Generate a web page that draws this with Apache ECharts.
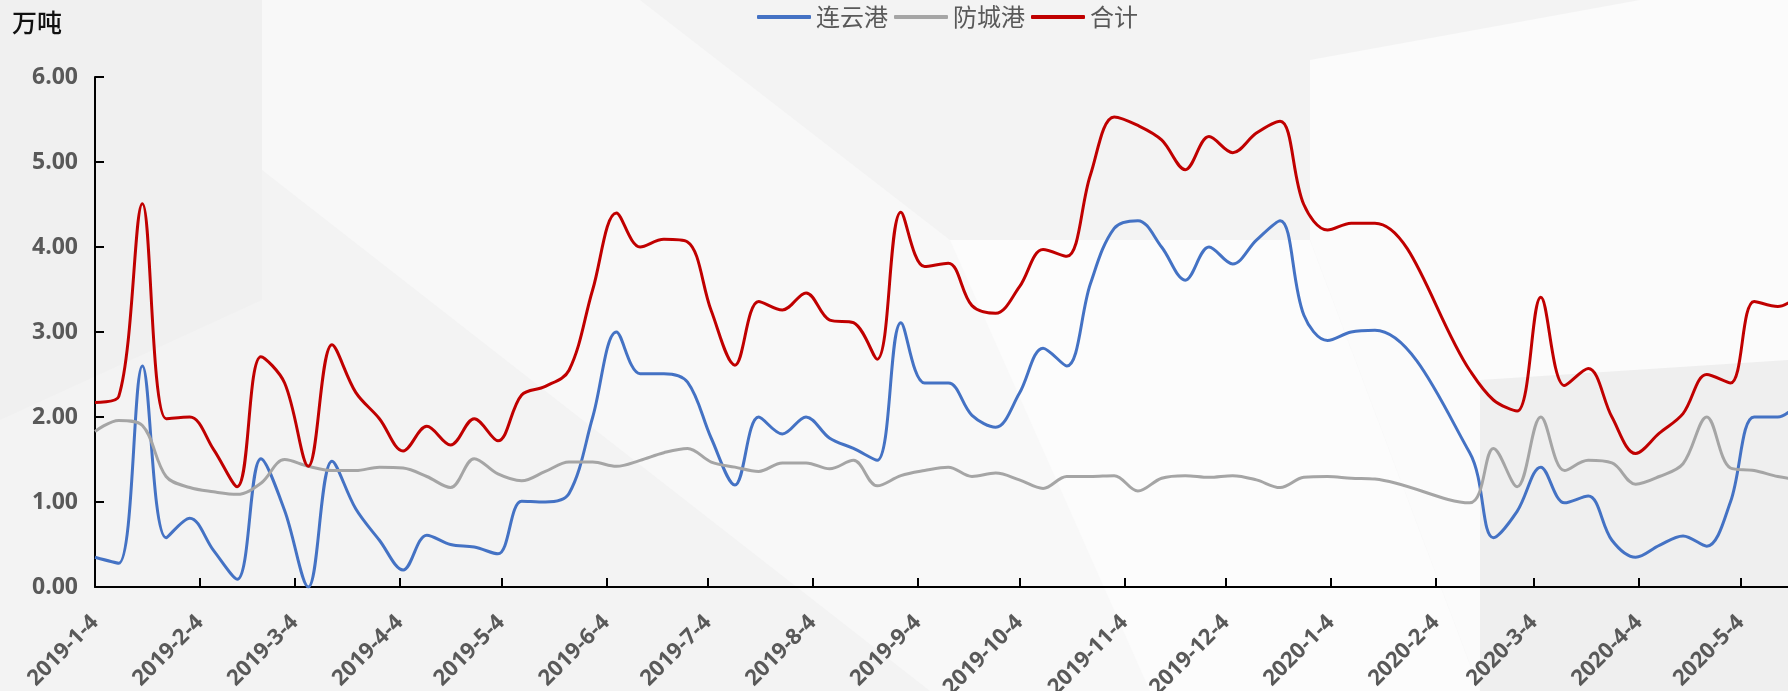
<!DOCTYPE html>
<html lang="zh-CN">
<head>
    <meta charset="UTF-8">
    <title>连云港 防城港 合计</title>
    <style>
        *{ margin: 0; padding: 0;}
        html, body{ width: 1788px; height: 691px; overflow: hidden; background: #f3f3f3;}
        #chart{ width: 1788px; height: 691px;}
    </style>
    <script src="https://cdn.jsdelivr.net/npm/echarts@6/dist/echarts.min.js"></script>
</head>
<body>
    <div id="chart"></div>
    <script>
        // 周度日期（2020年春节前后三周无数据）
        var dates = [
            '2019-01-04', '2019-01-11', '2019-01-18', '2019-01-25', '2019-02-01', '2019-02-08', '2019-02-15', '2019-02-22',
            '2019-03-01', '2019-03-08', '2019-03-15', '2019-03-22', '2019-03-29', '2019-04-05', '2019-04-12', '2019-04-19',
            '2019-04-26', '2019-05-03', '2019-05-10', '2019-05-17', '2019-05-24', '2019-05-31', '2019-06-07', '2019-06-14',
            '2019-06-21', '2019-06-28', '2019-07-05', '2019-07-12', '2019-07-19', '2019-07-26', '2019-08-02', '2019-08-09',
            '2019-08-16', '2019-08-23', '2019-08-30', '2019-09-06', '2019-09-13', '2019-09-20', '2019-09-27', '2019-10-04',
            '2019-10-11', '2019-10-18', '2019-10-25', '2019-11-01', '2019-11-08', '2019-11-15', '2019-11-22', '2019-11-29',
            '2019-12-06', '2019-12-13', '2019-12-20', '2019-12-27', '2020-01-03', '2020-01-10', '2020-01-17',
            '2020-02-14', '2020-02-21', '2020-02-28', '2020-03-06', '2020-03-13', '2020-03-20', '2020-03-27', '2020-04-03',
            '2020-04-10', '2020-04-17', '2020-04-24', '2020-05-01', '2020-05-08', '2020-05-15', '2020-05-22'
        ];

        // 连云港
        var lianyungang = [
            0.35, 0.28, 2.60, 0.58, 0.81, 0.43, 0.09, 1.51,
            0.90, 0.00, 1.48, 0.92, 0.55, 0.20, 0.61, 0.50,
            0.47, 0.39, 1.01, 1.00, 1.10, 2.00, 3.00, 2.51,
            2.51, 2.41, 1.75, 1.20, 2.00, 1.80, 2.00, 1.75,
            1.63, 1.49, 3.11, 2.40, 2.40, 2.02, 1.88, 2.28,
            2.81, 2.60, 3.57, 4.22, 4.31, 4.00, 3.61, 4.00,
            3.80, 4.08, 4.31, 3.20, 2.90, 3.00, 3.02,
            1.58, 0.58, 0.89, 1.41, 0.99, 1.07, 0.55, 0.35,
            0.49, 0.60, 0.48, 1.00, 2.00, 2.00, 2.20
        ];

        // 防城港
        var fangchenggang = [
            1.83, 1.96, 1.90, 1.30, 1.17, 1.12, 1.09, 1.22,
            1.50, 1.42, 1.37, 1.37, 1.41, 1.40, 1.30, 1.17,
            1.51, 1.33, 1.25, 1.36, 1.47, 1.47, 1.42, 1.49,
            1.58, 1.63, 1.47, 1.41, 1.36, 1.46, 1.46, 1.39,
            1.49, 1.19, 1.31, 1.37, 1.41, 1.30, 1.34, 1.26,
            1.16, 1.30, 1.30, 1.31, 1.13, 1.28, 1.31, 1.29,
            1.31, 1.26, 1.17, 1.29, 1.30, 1.28, 1.27,
            0.99, 1.63, 1.18, 2.00, 1.37, 1.49, 1.46, 1.21,
            1.30, 1.45, 2.00, 1.40, 1.37, 1.30, 1.26
        ];

        // 合计
        var total = [
            2.17, 2.24, 4.51, 1.98, 2.00, 1.62, 1.18, 2.71,
            2.40, 1.42, 2.85, 2.29, 1.98, 1.60, 1.89, 1.67,
            1.98, 1.72, 2.26, 2.36, 2.55, 3.50, 4.40, 4.00,
            4.09, 4.06, 3.25, 2.61, 3.36, 3.26, 3.46, 3.14,
            3.11, 2.68, 4.41, 3.77, 3.81, 3.31, 3.22, 3.53,
            3.97, 3.89, 4.85, 5.53, 5.43, 5.26, 4.91, 5.30,
            5.11, 5.34, 5.48, 4.50, 4.20, 4.28, 4.28,
            2.55, 2.20, 2.07, 3.41, 2.37, 2.57, 2.00, 1.57,
            1.81, 2.04, 2.50, 2.40, 3.36, 3.30, 3.45
        ];

        // 横轴刻度
        var tickDates = [
            '2019-01-04', '2019-02-04', '2019-03-04', '2019-04-04', '2019-05-04', '2019-06-04',
            '2019-07-04', '2019-08-04', '2019-09-04', '2019-10-04', '2019-11-04', '2019-12-04',
            '2020-01-04', '2020-02-04', '2020-03-04', '2020-04-04', '2020-05-04'
        ];
        var xMin = '2019-01-04';
        var xMax = '2020-05-18';

        function toTime(s) {
            var p = s.split('-');
            return new Date(+p[0], +p[1] - 1, +p[2]).getTime();
        }
        function pair(arr) {
            return dates.map(function (d, i) {
                return [toTime(d), arr[i]];
            });
        }

        var chart = echarts.init(document.getElementById('chart'));
        var labelFont = '"Open Sans", "Noto Sans CJK SC", sans-serif';
        var tickTimes = tickDates.map(toTime);

        var option = {
            backgroundColor: '#f3f3f3',
            animation: false,
            graphic: [
                { type: 'polygon', silent: true, z: -10, shape: { points: [[262, 0], [640, 0], [950, 240], [1310, 240], [1150, 691], [930, 691], [262, 170]] }, style: { fill: '#f8f8f8' } },
                { type: 'polygon', silent: true, z: -10, shape: { points: [[950, 240], [1310, 240], [1480, 691], [1150, 691]] }, style: { fill: '#fcfcfc' } },
                { type: 'polygon', silent: true, z: -10, shape: { points: [[1310, 60], [1640, 0], [1788, 0], [1788, 380], [1480, 691], [1310, 240]] }, style: { fill: '#fbfbfb' } },
                { type: 'polygon', silent: true, z: -10, shape: { points: [[1480, 380], [1788, 360], [1788, 691], [1480, 691]] }, style: { fill: '#efefef' } },
                { type: 'polygon', silent: true, z: -10, shape: { points: [[0, 0], [262, 0], [262, 300], [0, 420]] }, style: { fill: '#f0f0f0' } },
                {
                    type: 'text', left: 12, top: 10, silent: true,
                    style: { text: '万吨', fill: '#111', font: '500 25px "Noto Sans CJK SC", sans-serif' }
                }
            ],
            legend: {
                left: 752,
                top: 0,
                icon: 'roundRect',
                itemWidth: 54,
                itemHeight: 4,
                itemGap: 6,
                textStyle: {
                    color: '#595959',
                    fontSize: 24,
                    fontFamily: '"Noto Sans CJK SC", sans-serif'
                },
                data: ['连云港', '防城港', '合计']
            },
            grid: {
                left: 95,
                right: 0,
                top: 77,
                bottom: 104,
                containLabel: false,
                outerBoundsMode: 'none'
            },
            xAxis: {
                type: 'value',
                min: toTime(xMin),
                max: toTime(xMax),
                splitLine: { show: false },
                axisLine: { lineStyle: { color: '#000', width: 2 } },
                axisTick: {
                    inside: true,
                    length: 9,
                    lineStyle: { color: '#000', width: 2 },
                    customValues: tickTimes
                },
                axisLabel: {
                    customValues: tickTimes,
                    rotate: 45,
                    margin: 32,
                    color: '#595959',
                    fontSize: 22,
                    fontWeight: 'bold',
                    fontFamily: labelFont,
                    formatter: function (val) {
                        var d = new Date(val);
                        return d.getFullYear() + '-' + (d.getMonth() + 1) + '-' + d.getDate();
                    }
                }
            },
            yAxis: {
                type: 'value',
                min: 0,
                max: 6,
                interval: 1,
                splitLine: { show: false },
                axisLine: { show: true, lineStyle: { color: '#000', width: 2 } },
                axisTick: { show: true, inside: true, length: 9, lineStyle: { color: '#000', width: 2 } },
                axisLabel: {
                    margin: 17,
                    color: '#595959',
                    fontSize: 23,
                    fontWeight: 'bold',
                    fontFamily: labelFont,
                    formatter: function (v) { return v.toFixed(2); }
                }
            },
            series: [
                {
                    name: '连云港',
                    type: 'line',
                    data: pair(lianyungang),
                    smooth: 0.35,
                    showSymbol: false,
                    symbol: 'none',
                    lineStyle: { color: '#4472C4', width: 3 },
                    itemStyle: { color: '#4472C4' }
                },
                {
                    name: '防城港',
                    type: 'line',
                    data: pair(fangchenggang),
                    smooth: 0.35,
                    showSymbol: false,
                    symbol: 'none',
                    lineStyle: { color: '#A5A5A5', width: 3 },
                    itemStyle: { color: '#A5A5A5' }
                },
                {
                    name: '合计',
                    type: 'line',
                    data: pair(total),
                    smooth: 0.35,
                    showSymbol: false,
                    symbol: 'none',
                    lineStyle: { color: '#C00000', width: 3 },
                    itemStyle: { color: '#C00000' }
                }
            ]
        };
        chart.setOption(option);
    </script>
</body>
</html>
